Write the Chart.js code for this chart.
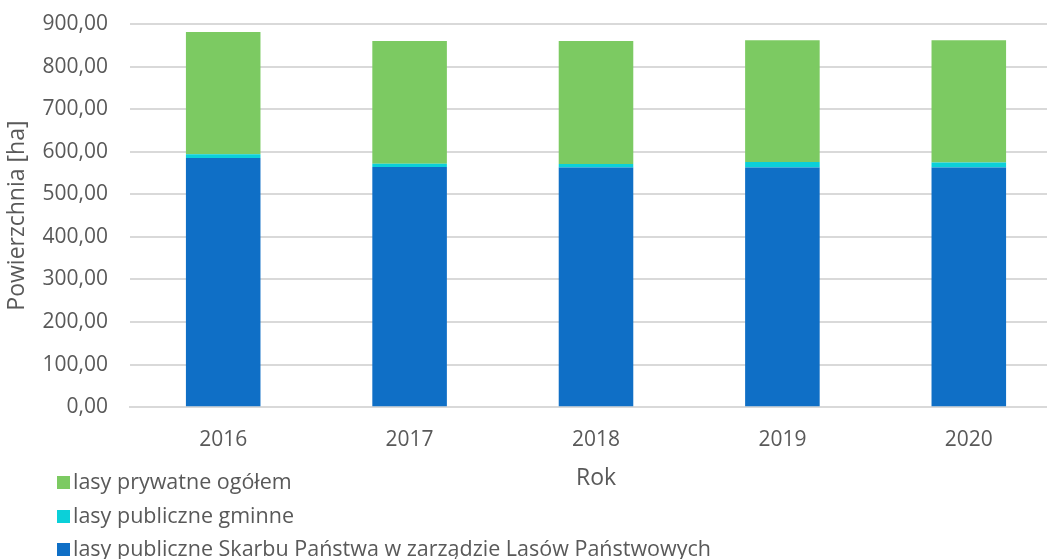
<!DOCTYPE html>
<html>
<head>
<meta charset="utf-8">
<script src="https://cdn.jsdelivr.net/npm/chart.js@4/dist/chart.umd.min.js"></script>
<style>
  html, body { margin: 0; padding: 0; background: #fff; overflow: hidden; }
  #wrap { position: relative; width: 1062px; height: 559px; }
  #legend { position: absolute; left: 57px; top: 467px; font-family: "Open Sans", sans-serif; font-size: 21.5px; color: #595959; }
  #legend div { height: 33.5px; line-height: 28px; white-space: nowrap; }
  #legend span { display: inline-block; width: 13px; height: 13px; margin-right: 3px; }
</style>
</head>
<body>
<div id="wrap">
  <canvas id="chart" width="1062" height="559"></canvas>
  <div id="legend"></div>
</div>
<script>
// dane do wykresu
const years = ["2016", "2017", "2018", "2019", "2020"];
const lasyPanstwowe = [585, 564, 563, 563, 563];
const lasyGminne = [9, 8, 8, 13, 12];
const lasyPrywatne = [287, 288, 289, 286, 287];

const seriesNames = [
    "lasy publiczne Skarbu Państwa w zarządzie Lasów Państwowych",
    "lasy publiczne gminne",
    "lasy prywatne ogółem",
];
const seriesColors = ["#0F6FC6", "#0BD0D9", "#7CCA62"];
const seriesData = [lasyPanstwowe, lasyGminne, lasyPrywatne];

const textColor = "#595959";
const font = { family: "'Open Sans', sans-serif", size: 21 };
const titleFont = { family: "'Open Sans', sans-serif", size: 23 };

const ctx = document.getElementById("chart").getContext("2d");
new Chart(ctx, {
    type: "bar",
    data: {
        labels: years,
        datasets: seriesData.map((d, i) => ({
            label: seriesNames[i],
            data: d,
            backgroundColor: seriesColors[i],
            barPercentage: 0.4,
            categoryPercentage: 1,
        })),
    },
    options: {
        responsive: false,
        animation: false,
        devicePixelRatio: 1,
        layout: { padding: { top: 24, left: 0, right: 0, bottom: 63 } },
        plugins: {
            legend: { display: false },
            tooltip: { enabled: false },
        },
        scales: {
            x: {
                stacked: true,
                grid: { display: false, drawTicks: false },
                border: { color: "#d9d9d9", width: 2 },
                ticks: { color: textColor, font: font, padding: 20 },
                title: { display: true, text: "Rok", color: textColor, font: titleFont, padding: { top: -8 } },
            },
            y: {
                stacked: true,
                min: 0,
                max: 900,
                ticks: {
                    stepSize: 100,
                    color: textColor,
                    font: font,
                    padding: 22,
                    callback: (v) => v.toFixed(2).replace(".", ","),
                },
                grid: { color: "#d9d9d9", lineWidth: 2, drawTicks: false },
                border: { display: false },
                title: { display: true, text: "Powierzchnia [ha]", color: textColor, font: titleFont, padding: { top: 4, bottom: 0 } },
                afterFit: (scale) => {
                    scale.width = 130;
                    scale.paddingTop = 0;
                    scale.paddingBottom = 0;
                },
            },
        },
    },
});

// legenda (odwrócona kolejność jak w oryginale)
const legend = document.getElementById("legend");
for (let i = seriesNames.length - 1; i >= 0; i--) {
    const row = document.createElement("div");
    row.innerHTML = `<span style="background:${seriesColors[i]}"></span>${seriesNames[i]}`;
    legend.appendChild(row);
}
</script>
</body>
</html>
